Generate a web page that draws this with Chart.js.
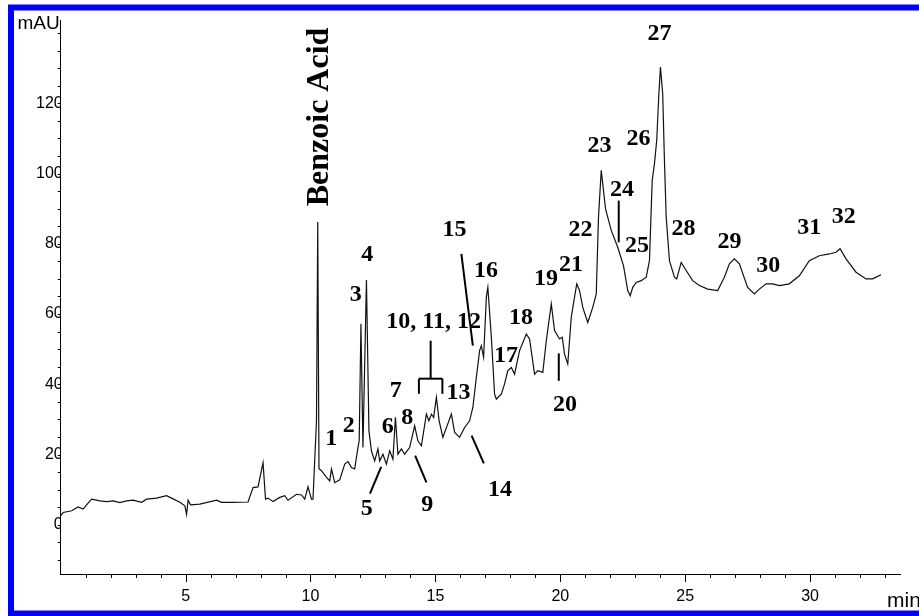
<!DOCTYPE html>
<html lang="en">
<head>
  <meta charset="UTF-8">
  <title>Chromatogram</title>
  <style>
    *{
      margin: 0;
      padding: 0;
    }
    body{
      background: #fff;
      width: 919px;
      height: 616px;
      overflow: hidden;
    }
  </style>
</head>
<body>
  <canvas id="myChart" width="919" height="616"></canvas>
  <script src="https://cdn.jsdelivr.net/npm/chart.js"></script>
  <script>
    // retention time (min) and absorbance (mAU)
    const times = [0, 0.10, 0.44, 0.70, 0.90, 1.06, 1.24, 1.57, 1.84, 2.10,
      2.37, 2.64, 2.90, 3.24, 3.44, 3.84, 4.24, 4.44, 4.77, 4.97,
      5.04, 5.10, 5.20, 5.57, 6.24, 6.44, 6.90, 7.50, 7.70, 7.90,
      8.10, 8.20, 8.30, 8.50, 8.77, 8.97, 9.10, 9.44, 9.64, 9.77,
      9.90, 10.04, 10.10, 10.24, 10.29, 10.34, 10.44, 10.64, 10.77, 10.84,
      10.97, 11.17, 11.37, 11.50, 11.64, 11.77, 11.90, 11.95, 12.02, 12.10,
      12.24, 12.34, 12.44, 12.57, 12.70, 12.77, 12.90, 13.04, 13.17, 13.30,
      13.40, 13.50, 13.64, 13.77, 13.97, 14.17, 14.30, 14.44, 14.64, 14.74,
      14.84, 14.93, 15.04, 15.15, 15.30, 15.64, 15.77, 15.97, 16.17, 16.37,
      16.50, 16.64, 16.77, 16.84, 16.93, 17.04, 17.10, 17.24, 17.37, 17.44,
      17.64, 17.77, 17.90, 18.04, 18.17, 18.37, 18.64, 18.77, 18.97, 19.10,
      19.30, 19.44, 19.64, 19.77, 19.97, 20.08, 20.17, 20.30, 20.44, 20.57,
      20.66, 20.77, 20.90, 21.10, 21.30, 21.44, 21.53, 21.64, 21.81, 22.04,
      22.30, 22.53, 22.70, 22.80, 22.90, 23.04, 23.24, 23.44, 23.57, 23.68,
      23.77, 23.86, 23.94, 24.01, 24.10, 24.17, 24.24, 24.37, 24.57, 24.66,
      24.84, 25.04, 25.30, 25.57, 25.90, 26.30, 26.57, 26.77, 26.97, 27.17,
      27.50, 27.77, 27.97, 28.24, 28.50, 28.77, 29.17, 29.57, 29.97, 30.37,
      30.77, 31.04, 31.20, 31.44, 31.84, 32.24, 32.50, 32.84];
    const absorbance = [2.6, 3.5, 4.0, 5.1, 4.5, 5.9, 7.3, 6.8, 6.6, 6.8,
      6.3, 6.8, 7.0, 6.4, 7.3, 7.6, 8.3, 7.6, 6.4, 5.4,
      3.0, 7.0, 5.7, 5.9, 7.0, 6.4, 6.4, 6.5, 10.6, 10.8,
      17.7, 7.3, 7.6, 6.6, 7.8, 8.3, 7.0, 8.7, 8.5, 7.3,
      10.8, 7.3, 7.3, 29.6, 86.2, 16.0, 15.4, 13.5, 12.5, 15.9,
      12.0, 12.8, 17.3, 18.0, 16.3, 15.9, 22.0, 24.0, 57.2, 22.0,
      69.7, 26.8, 21.0, 18.2, 21.6, 18.2, 20.1, 17.3, 21.1, 18.7,
      30.6, 20.1, 21.6, 20.1, 22.0, 28.2, 23.9, 22.5, 31.5, 29.6,
      31.5, 30.6, 36.3, 29.6, 24.9, 31.5, 26.3, 24.9, 27.7, 29.6,
      33.4, 42.0, 49.6, 51.0, 47.7, 64.8, 67.6, 53.4, 37.2, 35.8,
      37.2, 40.1, 43.9, 44.8, 42.9, 49.6, 54.3, 52.9, 42.9, 43.9,
      43.4, 52.4, 62.9, 55.3, 52.9, 53.4, 48.6, 45.8, 59.1, 64.8,
      68.6, 66.7, 61.9, 57.6, 61.9, 65.7, 87.6, 100.9, 90.0, 83.8,
      79.0, 73.8, 66.7, 65.2, 67.6, 69.0, 69.5, 70.5, 75.2, 98.0,
      102.8, 109.4, 121.7, 130.3, 122.7, 103.7, 87.6, 75.2, 70.5, 70.0,
      74.7, 72.4, 69.5, 68.1, 67.1, 66.7, 70.5, 74.3, 75.7, 74.3,
      67.6, 65.7, 67.1, 68.6, 68.6, 68.1, 68.6, 70.9, 75.2, 76.6,
      77.1, 77.6, 78.6, 75.7, 71.9, 70.0, 70.0, 71.2];

    // peak labels and where they sit (min, mAU)
    const peakLabels = ['1', '2', '3', '4', '5', '6', '7', '8', '9', '10, 11, 12',
      '13', '14', '15', '16', '17', '18', '19', '20', '21', '22',
      '23', '24', '25', '26', '27', '28', '29', '30', '31', '32'];
    const labelTimes = [10.83, 11.53, 11.81, 12.27, 12.25, 13.09, 13.41, 13.87, 14.67, 14.93,
      15.93, 17.59, 15.77, 17.03, 17.83, 18.43, 19.43, 20.19, 20.43, 20.81,
      21.57, 22.47, 23.07, 23.13, 23.97, 24.93, 26.77, 28.33, 29.97, 31.35];
    const labelValues = [24.4, 28.3, 65.5, 76.9, 4.6, 27.8, 38.2, 30.6, 5.7, 57.7,
      37.5, 10.0, 84.0, 72.4, 48.1, 58.8, 69.9, 34.2, 74.1, 83.9,
      108.0, 95.4, 79.5, 109.8, 139.7, 84.3, 80.5, 73.8, 84.5, 87.7];

    const compoundName = 'Benzoic Acid';
    const compoundAt = [10.39, 116.1];

    // leader lines: [t1, v1, t2, v2]
    const leaders = [
      [16.04, 77.1, 16.50, 51.0],   // 15
      [12.83, 16.5, 12.38, 8.9],    // 5
      [14.19, 19.7, 14.64, 12.1],   // 9
      [16.45, 25.4, 16.94, 17.5],   // 14
      [19.94, 48.8, 19.94, 41.0],   // 20
      [22.34, 92.3, 22.34, 80.4],   // 24
      [14.81, 52.4, 14.81, 41.6],   // bracket 10-12
      [14.34, 41.6, 15.28, 41.6],
      [14.34, 41.6, 14.34, 37.3],
      [15.28, 41.6, 15.28, 37.3]
    ];

    const xTickLabels = [5, 10, 15, 20, 25, 30];
    const yTickLabels = [0, 20, 40, 60, 80, 100, 120];

    const axisFont = "'Liberation Sans', Arial, sans-serif";
    const points = times.map((t, i) => ({x: t, y: absorbance[i]}));

    // extra drawing: minor ticks, frame, annotations
    const annotate = {
      id: 'annotate',
      afterDraw(chart) {
        const {ctx, scales: {x, y}} = chart;
        ctx.save();
        ctx.strokeStyle = '#000';
        ctx.lineWidth = 1;
        // x ticks every minute
        const xb = y.getPixelForValue(y.min);
        for (let m = 1; m <= 33; m++) {
          const px = Math.round(x.getPixelForValue(m)) + 0.5;
          ctx.beginPath();
          ctx.moveTo(px, xb);
          ctx.lineTo(px, xb + (m % 5 === 0 ? 8 : 4));
          ctx.stroke();
        }
        // y ticks every 5 mAU
        const yl = x.getPixelForValue(x.min);
        for (let v = -10; v <= 140; v += 5) {
          const py = Math.round(y.getPixelForValue(v)) + 0.5;
          ctx.beginPath();
          ctx.moveTo(yl - 3, py);
          ctx.lineTo(yl, py);
          ctx.stroke();
        }

        // axis titles
        ctx.fillStyle = '#000';
        ctx.font = "19px " + axisFont;
        ctx.textAlign = 'right';
        ctx.textBaseline = 'alphabetic';
        ctx.fillText('mAU', yl - 1, 29);
        ctx.font = "21px " + axisFont;
        ctx.textAlign = 'left';
        ctx.fillText('min', 887, 607);

        // leader lines
        ctx.lineWidth = 2;
        leaders.forEach(l => {
          ctx.beginPath();
          ctx.moveTo(x.getPixelForValue(l[0]), y.getPixelForValue(l[1]));
          ctx.lineTo(x.getPixelForValue(l[2]), y.getPixelForValue(l[3]));
          ctx.stroke();
        });

        // peak numbers
        ctx.font = "bold 24px 'Liberation Serif', 'Times New Roman', serif";
        ctx.textAlign = 'center';
        ctx.textBaseline = 'middle';
        peakLabels.forEach((txt, i) => {
          ctx.fillText(txt, x.getPixelForValue(labelTimes[i]), y.getPixelForValue(labelValues[i]));
        });

        // compound name, rotated
        ctx.font = "bold 32px 'Liberation Serif', 'Times New Roman', serif";
        ctx.translate(x.getPixelForValue(compoundAt[0]), y.getPixelForValue(compoundAt[1]));
        ctx.rotate(-Math.PI / 2);
        ctx.fillText(compoundName, 0, 0);
        ctx.restore();

        // blue frame
        ctx.save();
        ctx.strokeStyle = '#0000ff';
        ctx.lineWidth = 6;
        ctx.strokeRect(11, 7.5, 930, 606);
        ctx.restore();
      }
    };

    const config = {
      type: 'line',
      data: {
        datasets: [{
          data: points,
          borderColor: '#111',
          borderWidth: 1.2,
          pointRadius: 0,
          tension: 0,
          fill: false
        }]
      },
      options: {
        responsive: false,
        animation: false,
        devicePixelRatio: 1,
        layout: {
          padding: {left: 10.7, right: 19, top: 20.7, bottom: 2}
        },
        plugins: {
          legend: {display: false},
          tooltip: {enabled: false}
        },
        scales: {
          x: {
            type: 'linear',
            min: 0,
            max: 33.6,
            afterFit(scale) { scale.height = 40; },
            border: {display: true, color: '#000', width: 1},
            grid: {display: true, drawOnChartArea: false, drawTicks: false},
            ticks: {
              stepSize: 5,
              autoSkip: false,
              maxRotation: 0,
              padding: 13,
              color: '#000',
              font: {family: axisFont, size: 16},
              callback: v => xTickLabels.includes(v) ? String(v) : ''
            }
          },
          y: {
            min: -14,
            max: 143.5,
            afterFit(scale) { scale.width = 50; },
            border: {display: true, color: '#000', width: 1},
            grid: {display: true, drawOnChartArea: false, drawTicks: false},
            ticks: {
              stepSize: 20,
              autoSkip: false,
              padding: -2,
              color: '#000',
              font: {family: axisFont, size: 16},
              callback: v => yTickLabels.includes(v) ? String(v) : ''
            }
          }
        }
      },
      plugins: [annotate]
    };

    const myChart = new Chart(document.getElementById('myChart'), config);
  </script>
</body>
</html>
